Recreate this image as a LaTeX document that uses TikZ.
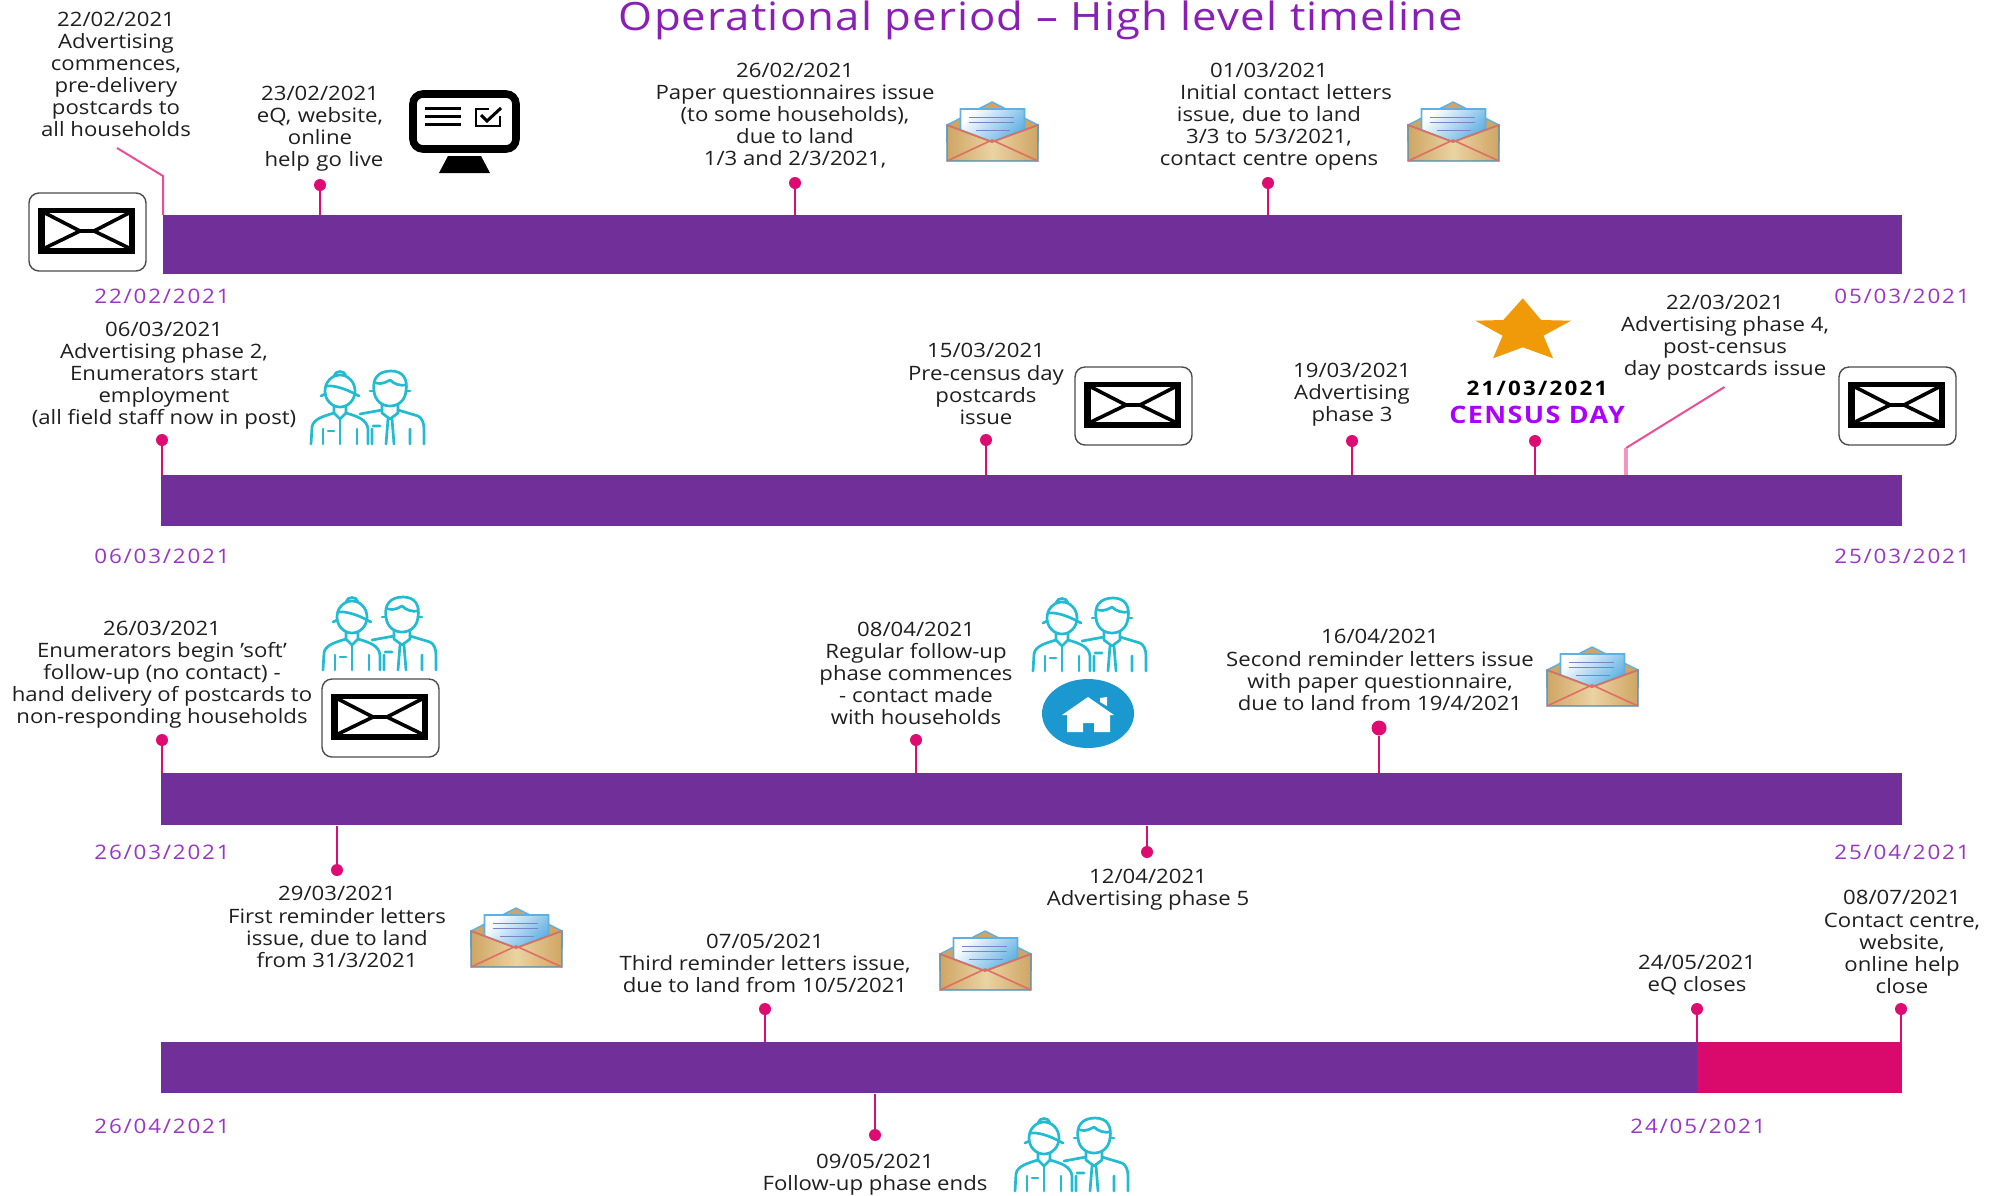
\documentclass[tikz,border=0pt]{standalone}
\usepackage{fontspec}
\setmainfont[FakeStretch=1.12]{Open Sans}
\usetikzlibrary{shapes.geometric}
\definecolor{barpurple}{HTML}{702F99}
\definecolor{barpink}{HTML}{DA0A6C}
\definecolor{pinpink}{HTML}{DE0B72}
\definecolor{elbowpink}{HTML}{EA4E96}
\definecolor{datepurple}{HTML}{9A35C4}
\definecolor{titlepurple}{HTML}{8A1FB5}
\definecolor{censuspurple}{HTML}{AC00FF}
\definecolor{peoplecyan}{HTML}{22BBD2}
\definecolor{housecyan}{HTML}{1B98D0}
\definecolor{starorange}{HTML}{F09A0A}
\definecolor{tan1}{HTML}{EAD3A2}
\definecolor{tan2}{HTML}{CFA564}
\definecolor{envblue}{HTML}{5FB0E2}
\definecolor{envred}{HTML}{DE6F62}
\tikzset{
  bar/.style={fill=barpurple,draw=none,inner sep=0,anchor=north west,minimum height=#1},
  dot/.style={circle,fill=pinpink,draw=none,inner sep=0,minimum size=6pt},
  bigdot/.style={circle,fill=pinpink,draw=none,inner sep=0,minimum size=7.5pt},
  pin/.style={draw=pinpink,line width=1.2pt},
  elbow/.style={draw=elbowpink,line width=1pt},
  txt/.style={align=center,inner sep=0,text=black!88,font=\fontsize{9.9}{11.05}\selectfont},
  datelab/.style={inner sep=0,text=datepurple,font=\addfontfeature{LetterSpace=9}\fontsize{10}{11}\selectfont},
  mailbox/.pic={
    \draw[black!70,fill=white,line width=.7pt,rounded corners=5pt] (0,0) rectangle (117,78);
    \fill[black] (9,15) rectangle (106,61);
    \fill[white] (16,20) rectangle (100,55);
    \draw[black,line width=1.8pt,line join=round] (16,20) -- (51,38) -- (65,38) -- (100,20);
    \draw[black,line width=1.8pt] (16,55) -- (51,38) (100,55) -- (65,38);
  },
  openenv/.pic={
    \fill[tan2,draw=envblue,line width=.7pt,line join=round] (0,23) -- (45,0) -- (91,23) -- (91,40) -- (0,40) -- cycle;
    \shade[top color=white,bottom color=envblue,shading angle=45,draw=envblue,line width=.8pt] (13.5,7) -- (77.5,7) -- (77.5,28) -- (45,40) -- (13.5,28) -- cycle;
    \draw[black!40!blue!50,line width=.5pt] (22,15) -- (67,15) (22,20) -- (67,20) (29,28) -- (63,28);
    \shade[left color=tan2,right color=tan2,middle color=tan1,draw=envblue!80!black,line width=.7pt] (0,23) -- (45,40) -- (91,23) -- (91,59) -- (0,59) -- cycle;
    \draw[envred,line width=.8pt] (0,23) -- (45,40) -- (91,23) (0,59) -- (45,38) -- (91,59);
  },
  people/.pic={
    \begin{scope}[draw=peoplecyan,line width=1.35pt,line cap=round,line join=round]
      \draw (30,22) ellipse [x radius=15,y radius=16];
      \draw (24,7) .. controls (25,1) and (35,1) .. (36,7);
      \draw (16,17) .. controls (24,16) and (36,20) .. (45,25);
      \draw (15,25) -- (11,27) (45,25) -- (49,27);
      \draw (24,37) -- (24,44) -- (30,50) -- (36,44) -- (36,37);
      \draw (1,75) -- (2,58) .. controls (3,50) and (14,47) .. (24,44);
      \draw (36,44) .. controls (46,47) and (57,50) .. (58,60) -- (58,75);
      \draw (13,75) -- (13,60) (47,75) -- (47,60) (30,50) -- (30,75) (18,62) -- (24,62);
      \draw (64,22) .. controls (62,10) and (68,2) .. (81,2) .. controls (93,2) and (98,10) .. (96,22) .. controls (95,32) and (88,37) .. (80,37) .. controls (72,37) and (65,32) .. (64,22);
      \draw (66,14) .. controls (72,16) and (78,12) .. (80,11) .. controls (84,15) and (90,17) .. (96,16);
      \draw (64,22) -- (60,22) (96,22) -- (100,22);
      \draw (72,36) -- (72,44) -- (80,50) -- (88,44) -- (88,36);
      \draw (50,45) -- (72,41) (88,41) -- (108,47) .. controls (112,49) and (114,54) .. (114,60) -- (114,75);
      \draw (100,75) -- (100,60) (62,75) -- (62,60) (76,75) -- (78,50) (84,75) -- (82,50) (63,57) -- (70,57);
    \end{scope}
  },
  monitor/.pic={
    \draw[black,line width=3.8pt,rounded corners=5pt] (4,4) rectangle (107,59);
    \fill[black] (39,66) -- (72,66) -- (81,83) -- (30,83) -- cycle;
    \draw[black,line width=1.5pt] (16,18) -- (52,18) (16,26) -- (52,26) (16,34) -- (52,34);
    \draw[black,line width=1.4pt] (80,19) -- (67,19) -- (67,36) -- (91,36) -- (91,26);
    \draw[black,line width=1.5pt] (72,25) -- (78,31) -- (92,18);
  },
}
\begin{document}
\begin{tikzpicture}[x=.5pt,y=-.5pt]
\useasboundingbox[fill=white] (0,0) rectangle (2000,1195);

% Bars
\node[bar=29.5pt,minimum width=869.5pt] (bar1) at (163,215) {};
\node[bar=25.5pt,minimum width=870.5pt] (bar2) at (161,474.5) {};
\node[bar=26pt,minimum width=870.5pt] (bar3) at (161,773) {};
\node[bar=25.5pt,minimum width=768pt] (bar4a) at (161,1042) {};
\node[bar=25.5pt,minimum width=102.5pt,fill=barpink] (bar4b) at (1697,1042) {};

% Title
\node[inner sep=0,text=titlepurple,font=\addfontfeature{LetterSpace=3}\fontsize{19.5}{21}\selectfont] (title) at (1041,20) {Operational period – High level timeline};

% Bar-end dates
\node[datelab] (d1a) at (162,296) {22/02/2021};
\node[datelab] (d1b) at (1902,296) {05/03/2021};
\node[datelab] (d2a) at (162,556) {06/03/2021};
\node[datelab] (d2b) at (1902,556) {25/03/2021};
\node[datelab] (d3a) at (162,852) {26/03/2021};
\node[datelab] (d3b) at (1902,852) {25/04/2021};
\node[datelab] (d4a) at (162,1126) {26/04/2021};
\node[datelab] (d4b) at (1698,1126) {24/05/2021};

% Pins
\node[dot] (p1) at (320,185) {};
\node[dot] (p2) at (795,183) {};
\node[dot] (p3) at (1268,183) {};
\node[dot] (p4) at (162,440) {};
\node[dot] (p5) at (986,440) {};
\node[dot] (p6) at (1352,441) {};
\node[dot] (p7) at (1535,441) {};
\node[dot] (p8) at (162,740) {};
\node[dot] (p9) at (916,740) {};
\node[bigdot] (p10) at (1379,728) {};
\node[dot] (p11) at (337,870) {};
\node[dot] (p12) at (1147,852) {};
\node[dot] (p13) at (765,1009) {};
\node[dot] (p14) at (1697,1009) {};
\node[dot] (p15) at (1901,1009) {};
\node[dot] (p16) at (875,1135) {};
\foreach \a/\b in {p1/bar1,p2/bar1,p3/bar1,p4/bar2,p5/bar2,p6/bar2,p7/bar2,p8/bar3,p9/bar3,p10/bar3,p13/bar4a,p14/bar4b,p15/bar4b}
  \draw[pin] (\a) -- (\a |- \b.north);
\draw[pin] (p11) -- (p11 |- bar3.south);
\draw[pin] (p12) -- (p12 |- bar3.south);
\draw[pin] (p16) -- (p16 |- bar4a.south);

% Elbow connectors
\coordinate (e1a) at (163,176);
\coordinate (e1b) at (117,148);
\draw[elbow] (bar1.north west) -- (e1a) -- (e1b);
\coordinate (e2a) at (1626,448);
\coordinate (e2b) at (1724.5,387);
\draw[elbow] (e2a) -- (e2b);
\draw[draw=elbowpink!60,line width=1.6pt] (e2a) -- (e2a |- bar2.north);

% Labels
\node[txt] (t1) at (116,74.5) {22/02/2021\\Advertising\\commences,\\pre-delivery\\postcards to\\all households};
\node[txt,text width=100pt] (t2) at (320,129) {23/02/2021\\eQ, website,\\online\\ \hspace*{4pt}help go live};
\node[txt] (t3) at (795,115.5) {26/02/2021\\Paper questionnaires issue\\(to some households),\\due to land\\1/3 and 2/3/2021,};
\node[txt,text width=160pt] (t4) at (1269,116.5) {01/03/2021\\\hspace*{17pt}Initial contact letters\\issue, due to land\\3/3 to 5/3/2021,\\contact centre opens};
\node[txt] (t5) at (164,375.5) {06/03/2021\\Advertising phase 2,\\Enumerators start\\employment\\(all field staff now in post)};
\node[txt] (t6) at (986,384) {15/03/2021\\Pre-census day\\postcards\\issue};
\node[txt] (t7) at (1352,395) {19/03/2021\\Advertising\\phase 3};
\node[inner sep=0,text=black,font=\bfseries\addfontfeature{LetterSpace=11}\fontsize{10}{11}\selectfont] (t8a) at (1537,388) {21/03/2021};
\node[inner sep=0,text=censuspurple,font=\bfseries\addfontfeature{LetterSpace=6}\fontsize{12}{13}\selectfont] (t8b) at (1537,415) {CENSUS DAY};
\node[txt] (t9) at (1725,337.5) {22/03/2021\\Advertising phase 4,\\post-census\\day postcards issue};
\node[txt] (t10) at (162,674.5) {26/03/2021\\Enumerators begin 'soft'\\follow-up (no contact) -\\hand delivery of postcards to\\non-responding households};
\node[txt] (t11) at (916,673.5) {08/04/2021\\Regular follow-up\\phase commences\\- contact made\\with households};
\node[txt] (t12) at (1380,670) {16/04/2021\\Second reminder letters issue\\with paper questionnaire,\\due to land from 19/4/2021};
\node[txt] (t13) at (337,927) {29/03/2021\\First reminder letters\\issue, due to land\\from 31/3/2021};
\node[txt] (t14) at (1148,890) {12/04/2021\\Advertising phase 5};
\node[txt] (t15) at (765,963) {07/05/2021\\Third reminder letters issue,\\due to land from 10/5/2021};
\node[txt] (t16) at (1697,975) {24/05/2021\\eQ closes};
\node[txt] (t17) at (1902,942) {08/07/2021\\Contact centre,\\website,\\online help\\close};
\node[txt] (t18) at (875,1175) {09/05/2021\\Follow-up phase ends};

% Icons
\pic at (29,193) {mailbox};
\pic at (1075,367) {mailbox};
\pic at (1839,367) {mailbox};
\pic at (322,679) {mailbox};
\pic at (947,102) {openenv};
\pic at (1408,102) {openenv};
\pic at (1547,647) {openenv};
\pic at (471,908) {openenv};
\pic at (940,931) {openenv};
\pic at (310,369) {people};
\pic at (322,595) {people};
\pic at (1032,596) {people};
\pic at (1014,1116) {people};
\pic at (409,90) {monitor};

% Star
\fill[starorange] (1522.8,298.3) -- (1541,320) -- (1571,320.7) -- (1543.5,335.7) -- (1553,358.3) -- (1522.8,347.3) -- (1493,358.3) -- (1502.6,335.7) -- (1475.4,320.7) -- (1503.3,320) -- cycle;

% House
\node[ellipse,fill=housecyan,draw=none,inner sep=0,minimum width=46pt,minimum height=34.5pt] (house) at (1088,713.5) {};
\fill[white] (1088,697) -- (1114,715) -- (1110,715) -- (1110,732) -- (1094,732) -- (1094,723) -- (1083,723) -- (1083,732) -- (1067,732) -- (1067,715) -- (1062,715) -- cycle;
\fill[white] (1100,698) -- (1107,697) -- (1107,706) -- (1100,702) -- cycle;
\end{tikzpicture}
\end{document}
